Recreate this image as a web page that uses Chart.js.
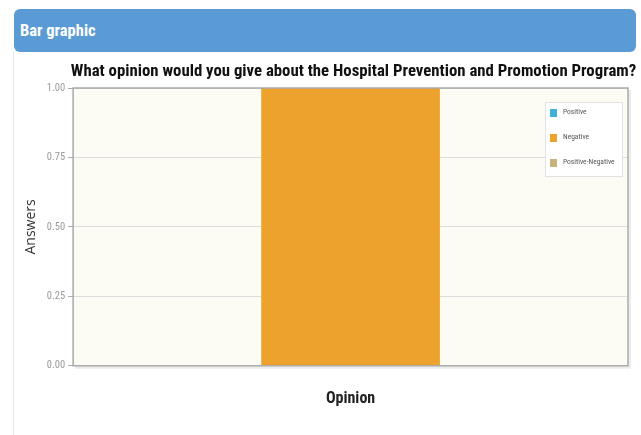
<!DOCTYPE html>
<html>
<head>
<meta charset="utf-8">
<script src="https://cdn.jsdelivr.net/npm/chart.js@4"></script>
<style>
  html, body { margin: 0; padding: 0; background: #fff; }
  body { width: 641px; height: 435px; position: relative; overflow: hidden; }
  #header {
    position: absolute; left: 14px; top: 9px; width: 622px; height: 43px;
    background: #5b9bd5; border-radius: 6px;
    color: #fff; font: bold 16.5px 'Roboto Condensed', 'Open Sans Condensed', 'DejaVu Sans', sans-serif;
    line-height: 43px; text-indent: 6px; box-sizing: border-box;
  }
  #panel {
    position: absolute; left: 13px; top: 52px; width: 628px; height: 383px;
    border-left: 1px solid #dfe7ef; box-sizing: border-box;
  }
</style>
</head>
<body>
<div id="header">Bar graphic</div>
<div id="panel"><canvas id="barChart"></canvas></div>
<script>
// Chart data
const categories = [''];
const seriesNames = ['Positive', 'Negative', 'Positive-Negative'];
const positiveValues = [0];
const negativeValues = [1];
const positiveNegativeValues = [0];
const yTickValues = [0, 0.25, 0.5, 0.75, 1];
const seriesColors = ['#3fb0d8', '#eca22c', '#c9b27c'];
const chartTitle = 'What opinion would you give about the Hospital Prevention and Promotion Program?';

const condensed = "'Roboto Condensed', 'Open Sans Condensed', 'DejaVu Sans Condensed', sans-serif";

// paints the plot background and frame
const plotFrame = {
    id: 'plotFrame',
    beforeDraw(chart) {
        const { ctx, chartArea: a } = chart;
        ctx.save();
        ctx.fillStyle = '#fdfcf4';
        ctx.fillRect(a.left, a.top, a.right - a.left, a.bottom - a.top);
        ctx.restore();
    },
    afterDatasetsDraw(chart) {
        const { ctx, chartArea: a } = chart;
        ctx.save();
        ctx.strokeStyle = '#a9a9a9';
        ctx.lineWidth = 1.5;
        ctx.strokeRect(a.left, a.top, a.right - a.left, a.bottom - a.top);
        // faint shadow under the frame
        ctx.strokeStyle = 'rgba(0,0,0,0.08)';
        ctx.lineWidth = 2;
        ctx.beginPath();
        ctx.moveTo(a.left + 2, a.bottom + 2);
        ctx.lineTo(a.right + 2, a.bottom + 2);
        ctx.lineTo(a.right + 2, a.top + 2);
        ctx.stroke();
        ctx.restore();
    }
};

// title sits a little right of the plot centre, just above it
const plotTitle = {
    id: 'plotTitle',
    afterDraw(chart) {
        const { ctx, chartArea: a } = chart;
        ctx.save();
        ctx.font = 'bold 16px ' + condensed;
        // shrink a touch if the installed face runs wider than 565px
        const size = Math.min(17, 16 * 565 / ctx.measureText(chartTitle).width);
        ctx.font = 'bold ' + size.toFixed(1) + 'px ' + condensed;
        ctx.fillStyle = '#111';
        ctx.textAlign = 'center';
        ctx.textBaseline = 'middle';
        ctx.fillText(chartTitle, (a.left + a.right) / 2 + 3, a.top - 16);
        ctx.restore();
    }
};

// small boxed legend in the top right corner of the plot
const boxLegend = {
    id: 'boxLegend',
    afterDraw(chart) {
        const { ctx, chartArea: a } = chart;
        const w = 77, h = 74;
        const x = a.right - w - 6, y = a.top + 14;
        ctx.save();
        ctx.fillStyle = '#ffffff';
        ctx.fillRect(x, y, w, h);
        ctx.strokeStyle = '#e2e2e2';
        ctx.lineWidth = 1;
        ctx.strokeRect(x + 0.5, y + 0.5, w, h);
        ctx.font = '7.5px ' + condensed;
        ctx.textBaseline = 'middle';
        chart.data.datasets.forEach((ds, i) => {
            const cy = y + 11 + i * 25;
            ctx.fillStyle = ds.backgroundColor;
            ctx.fillRect(x + 5, cy - 4, 7, 8);
            ctx.fillStyle = '#555';
            ctx.fillText(ds.label, x + 18, cy - 1);
        });
        ctx.restore();
    }
};

function initializeBarChart() {
    try {
        const ctx = document.getElementById('barChart').getContext('2d');
        new Chart(ctx, {
            type: 'bar',
            data: {
                labels: categories,
                datasets: [
                    { label: seriesNames[0], data: positiveValues, backgroundColor: seriesColors[0] },
                    { label: seriesNames[1], data: negativeValues, backgroundColor: seriesColors[1] },
                    { label: seriesNames[2], data: positiveNegativeValues, backgroundColor: seriesColors[2] }
                ]
            },
            options: {
                responsive: true,
                maintainAspectRatio: false,
                animation: false,
                datasets: {
                    bar: { barPercentage: 1, categoryPercentage: 0.966, borderWidth: 0 }
                },
                layout: { padding: { left: 9, right: 13, top: 36, bottom: 22 } },
                plugins: {
                    legend: { display: false },
                    tooltip: { enabled: false },
                    title: { display: false }
                },
                scales: {
                    x: {
                        grid: { display: false },
                        border: { display: false },
                        ticks: { display: false },
                        title: {
                            display: true,
                            text: 'Opinion',
                            color: '#222',
                            font: { family: condensed, size: 16, weight: 'bold' },
                            padding: { top: 16 }
                        }
                    },
                    y: {
                        min: 0,
                        max: 1,
                        afterBuildTicks(axis) {
                            axis.ticks = yTickValues.map(v => ({ value: v }));
                        },
                        grid: { color: '#dcdcdc', lineWidth: 1, tickLength: 5, tickColor: '#aaa' },
                        border: { display: false },
                        ticks: {
                            color: '#9a9a9a',
                            font: { family: condensed, size: 10.5 },
                            padding: 3,
                            callback: v => Number(v).toFixed(2)
                        },
                        title: {
                            display: true,
                            text: 'Answers',
                            color: '#333',
                            font: { family: "'Open Sans', sans-serif", size: 14 },
                            padding: { top: 0, bottom: 4 }
                        }
                    }
                }
            },
            plugins: [plotFrame, plotTitle, boxLegend]
        });
    } catch (error) {
        console.error('Error initializing bar chart:', error);
    }
}

document.addEventListener('DOMContentLoaded', initializeBarChart);
</script>
</body>
</html>
